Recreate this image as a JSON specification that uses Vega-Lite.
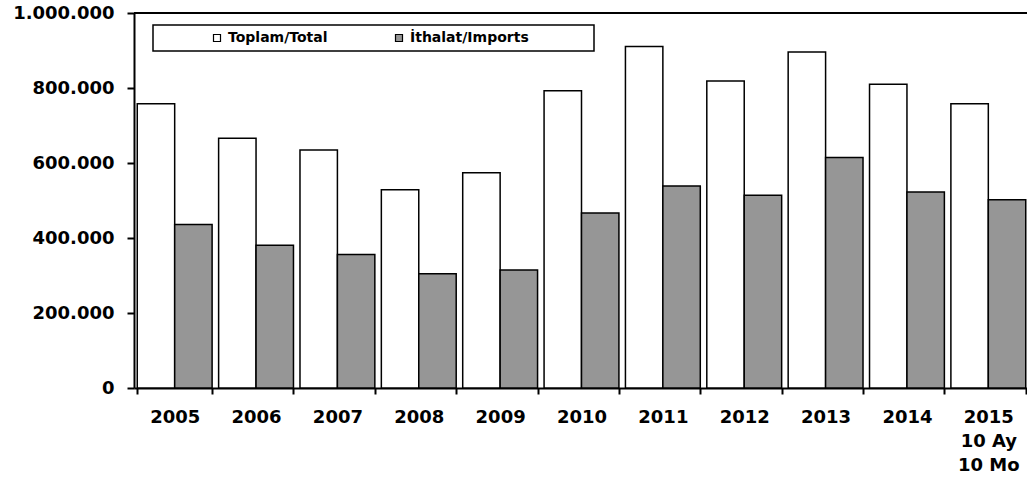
{
  "$schema": "https://vega.github.io/schema/vega-lite/v6.json",
  "width": 895,
  "height": 375,
  "autosize": {"type": "none"},
  "padding": {"left": 134, "top": 13, "right": 0, "bottom": 92},
  "config": {
    "locale": {"number": {"decimal": ",", "thousands": ".", "grouping": [3], "currency": ["", ""]}},
    "view": {"stroke": null},
    "font": "DejaVu Sans"
  },
  "data": {
    "values": [
      {"year": "2005", "series": "Toplam/Total", "value": 758000},
      {"year": "2005", "series": "İthalat/Imports", "value": 436000},
      {"year": "2006", "series": "Toplam/Total", "value": 666000},
      {"year": "2006", "series": "İthalat/Imports", "value": 381000},
      {"year": "2007", "series": "Toplam/Total", "value": 635000},
      {"year": "2007", "series": "İthalat/Imports", "value": 356000},
      {"year": "2008", "series": "Toplam/Total", "value": 529000},
      {"year": "2008", "series": "İthalat/Imports", "value": 305000},
      {"year": "2009", "series": "Toplam/Total", "value": 574000},
      {"year": "2009", "series": "İthalat/Imports", "value": 315000},
      {"year": "2010", "series": "Toplam/Total", "value": 793000},
      {"year": "2010", "series": "İthalat/Imports", "value": 467000},
      {"year": "2011", "series": "Toplam/Total", "value": 911000},
      {"year": "2011", "series": "İthalat/Imports", "value": 539000},
      {"year": "2012", "series": "Toplam/Total", "value": 819000},
      {"year": "2012", "series": "İthalat/Imports", "value": 514000},
      {"year": "2013", "series": "Toplam/Total", "value": 896000},
      {"year": "2013", "series": "İthalat/Imports", "value": 615000},
      {"year": "2014", "series": "Toplam/Total", "value": 810000},
      {"year": "2014", "series": "İthalat/Imports", "value": 523000},
      {"year": "2015", "series": "Toplam/Total", "value": 758000},
      {"year": "2015", "series": "İthalat/Imports", "value": 502000}
    ]
  },
  "layer": [
    {
      "mark": {"type": "bar", "stroke": "black", "strokeWidth": 1.5},
      "encoding": {
        "x": {
          "field": "year", "type": "nominal", "sort": null,
          "scale": {"paddingInner": 0.08, "paddingOuter": 0.04},
          "axis": {
            "title": null, "labelAngle": 0, "labelFontSize": 18, "labelFontWeight": "bold",
            "labelColor": "black", "domainColor": "black", "domainWidth": 2,
            "tickColor": "black", "tickWidth": 2, "tickSize": 6, "tickBand": "extent",
            "labelPadding": 14, "labelLineHeight": 24,
            "labelExpr": "datum.value == '2015' ? ['2015', '10 Ay', '10 Mo'] : datum.label"
          }
        },
        "xOffset": {
          "field": "series", "type": "nominal", "sort": ["Toplam/Total", "İthalat/Imports"],
          "scale": {"paddingInner": 0, "paddingOuter": 0}
        },
        "y": {
          "field": "value", "type": "quantitative",
          "scale": {"domain": [0, 1000000], "nice": false},
          "axis": {
            "title": null, "values": [0, 200000, 400000, 600000, 800000, 1000000], "format": ",d",
            "labelFontSize": 18, "labelFontWeight": "bold", "labelColor": "black",
            "domainColor": "black", "domainWidth": 2, "tickColor": "black", "tickWidth": 2,
            "tickSize": 7, "labelPadding": 13, "grid": false
          }
        },
        "color": {
          "field": "series", "type": "nominal", "sort": ["Toplam/Total", "İthalat/Imports"],
          "scale": {"domain": ["Toplam/Total", "İthalat/Imports"], "range": ["#ffffff", "#969696"]},
          "legend": {
            "title": null, "orient": "none", "legendX": 19, "legendY": 12, "direction": "horizontal",
            "strokeColor": "black", "padding": 6, "symbolType": "square", "symbolSize": 49,
            "symbolStrokeColor": "black", "symbolStrokeWidth": 1.2, "labelFontSize": 14,
            "labelFontWeight": "bold", "labelColor": "black", "labelOffset": 4, "labelLimit": 400,
            "columnPadding": 13, "symbolOffset": 51,
            "labelExpr": "datum.label == 'İthalat/Imports' ? datum.label + '\u00a0\u00a0\u00a0\u00a0\u00a0\u00a0\u00a0\u00a0\u00a0\u00a0\u00a0\u00a0\u200b' : datum.label",
            "encode": {"legend": {"update": {"strokeWidth": {"value": 1.5}}}}
          }
        }
      }
    },
    {
      "mark": {"type": "rule", "color": "black", "strokeWidth": 1.5},
      "encoding": {"y": {"datum": 1000000}}
    }
  ]
}
